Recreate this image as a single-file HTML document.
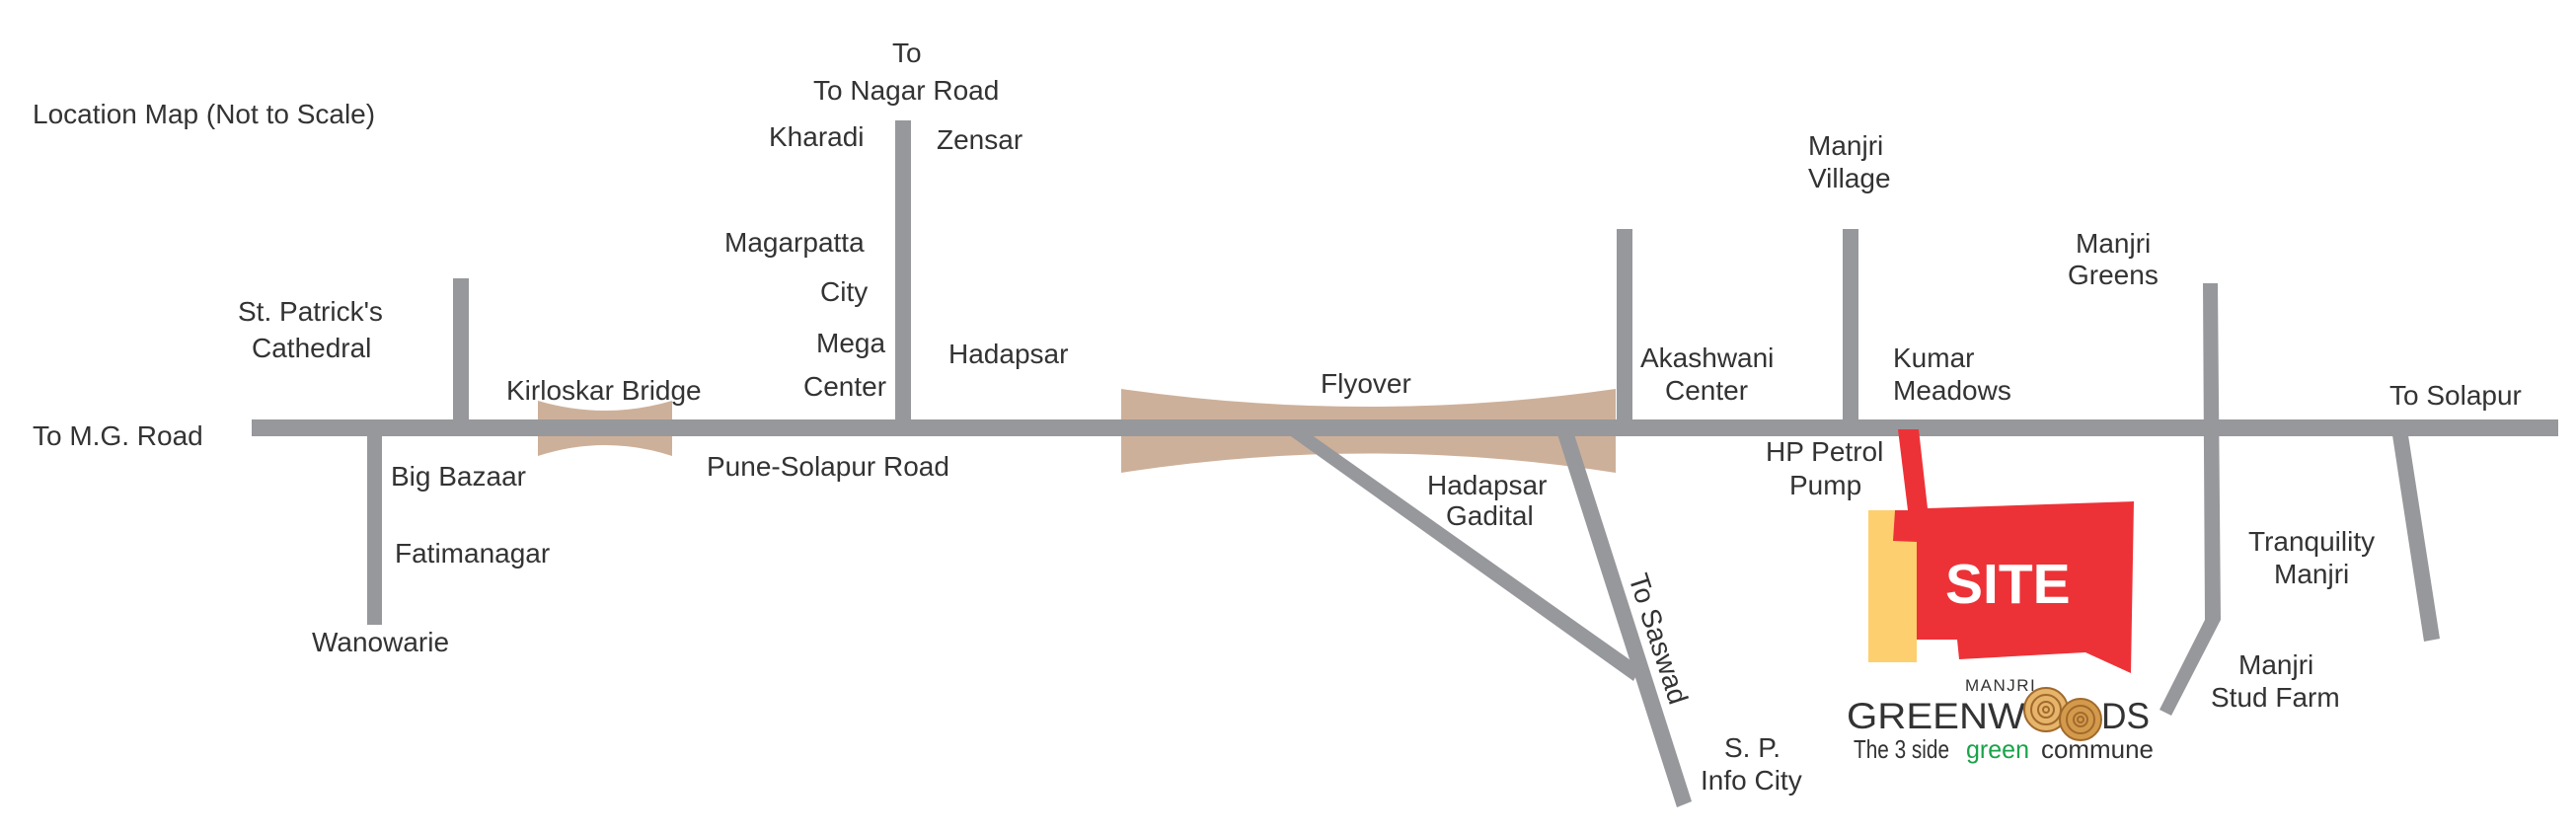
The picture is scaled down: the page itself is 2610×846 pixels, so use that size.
<!DOCTYPE html>
<html><head><meta charset="utf-8"><style>
html,body{margin:0;padding:0;background:#fff;}
svg{display:block;}
text{font-family:"Liberation Sans",Arial,sans-serif;fill:#333;font-size:28px;}
</style></head><body>
<svg width="2610" height="846" viewBox="0 0 2610 846" xmlns="http://www.w3.org/2000/svg">
<rect width="2610" height="846" fill="#fff"/>
<path d="M545,406 Q613,426 681,406 L681,462 Q613,440 545,462 Z" fill="#cdb09a"/>
<path d="M1136,394 Q1386,430 1637,394 L1637,479 Q1386,440 1136,479 Z" fill="#cdb09a"/>
<g fill="#97989c">
<rect x="255" y="425" width="2337" height="17"/>
<rect x="459" y="282" width="16" height="150"/>
<rect x="372" y="433" width="15" height="200"/>
<rect x="907" y="122" width="16" height="310"/>
<rect x="1638" y="232" width="16" height="200"/>
<rect x="1867" y="232" width="16" height="200"/>
<polygon points="2232,287 2247,287 2250,628 2200,725 2188,719 2234,628"/>
<polygon points="2424,441 2440,441 2472,647 2456,650"/>
<polygon points="1578,440 1595,440 1714,812 1699,818"/>
<polygon points="1305,440 1328,440 1662,676 1655,690"/>
</g>
<rect x="1893" y="517" width="49" height="154" fill="#fecf6e"/>
<polygon points="1923,435 1944,435 1953,515 2162,508 2159,682 2113,661 1985,668 1983,648 1942,648 1942,549 1918,548 1920,517 1933,517" fill="#ed3237"/>
<text x="1971" y="611" style="font-size:57px;font-weight:bold;fill:#fff">SITE</text>
<text x="1991" y="700" style="font-size:17px;letter-spacing:1.5px">MANJRI</text>
<text x="1871" y="738" textLength="181" lengthAdjust="spacingAndGlyphs" style="font-size:37px">GREENW</text>
<text x="2129" y="738" textLength="49" lengthAdjust="spacingAndGlyphs" style="font-size:37px">DS</text>
<g fill="none" stroke="#a06a2c" stroke-width="2">
<circle cx="2073" cy="719" r="22" fill="#e6b46a"/>
<circle cx="2073" cy="719" r="15"/><circle cx="2073" cy="719" r="8"/><circle cx="2073" cy="719" r="3"/>
<circle cx="2108" cy="729" r="21" fill="#d49a4c"/>
<circle cx="2108" cy="729" r="14"/><circle cx="2108" cy="729" r="7"/><circle cx="2108" cy="729" r="3"/>
</g>
<text x="1878" y="768" textLength="97" lengthAdjust="spacingAndGlyphs" style="font-size:26px">The 3 side</text>
<text x="1992" y="768" textLength="64" lengthAdjust="spacingAndGlyphs" style="font-size:26px;fill:#1aa34a">green</text>
<text x="2068" y="768" textLength="114" lengthAdjust="spacingAndGlyphs" style="font-size:26px">commune</text>
<text x="33" y="125">Location Map (Not to Scale)</text>
<text x="904" y="63">To</text>
<text x="824" y="101">To Nagar Road</text>
<text x="779" y="148">Kharadi</text>
<text x="949" y="151">Zensar</text>
<text x="734" y="255">Magarpatta</text>
<text x="831" y="305">City</text>
<text x="827" y="357">Mega</text>
<text x="814" y="401">Center</text>
<text x="961" y="368">Hadapsar</text>
<text x="241" y="325">St. Patrick's</text>
<text x="255" y="362">Cathedral</text>
<text x="513" y="405">Kirloskar Bridge</text>
<text x="33" y="451">To M.G. Road</text>
<text x="396" y="492">Big Bazaar</text>
<text x="716" y="482">Pune-Solapur Road</text>
<text x="400" y="570">Fatimanagar</text>
<text x="316" y="660">Wanowarie</text>
<text x="1338" y="398">Flyover</text>
<text x="1662" y="372">Akashwani</text>
<text x="1687" y="405">Center</text>
<text x="1446" y="501">Hadapsar</text>
<text x="1465" y="532">Gadital</text>
<text x="1789" y="467">HP Petrol</text>
<text x="1813" y="501">Pump</text>
<text x="0" y="0" transform="translate(1650,585) rotate(72)">To Saswad</text>
<text x="1747" y="767">S. P.</text>
<text x="1723" y="800">Info City</text>
<text x="1832" y="157">Manjri</text>
<text x="1832" y="190">Village</text>
<text x="1918" y="372">Kumar</text>
<text x="1918" y="405">Meadows</text>
<text x="2103" y="256">Manjri</text>
<text x="2095" y="288">Greens</text>
<text x="2421" y="410">To Solapur</text>
<text x="2278" y="558">Tranquility</text>
<text x="2304" y="591">Manjri</text>
<text x="2268" y="683">Manjri</text>
<text x="2240" y="716">Stud Farm</text>
</svg>
</body></html>
